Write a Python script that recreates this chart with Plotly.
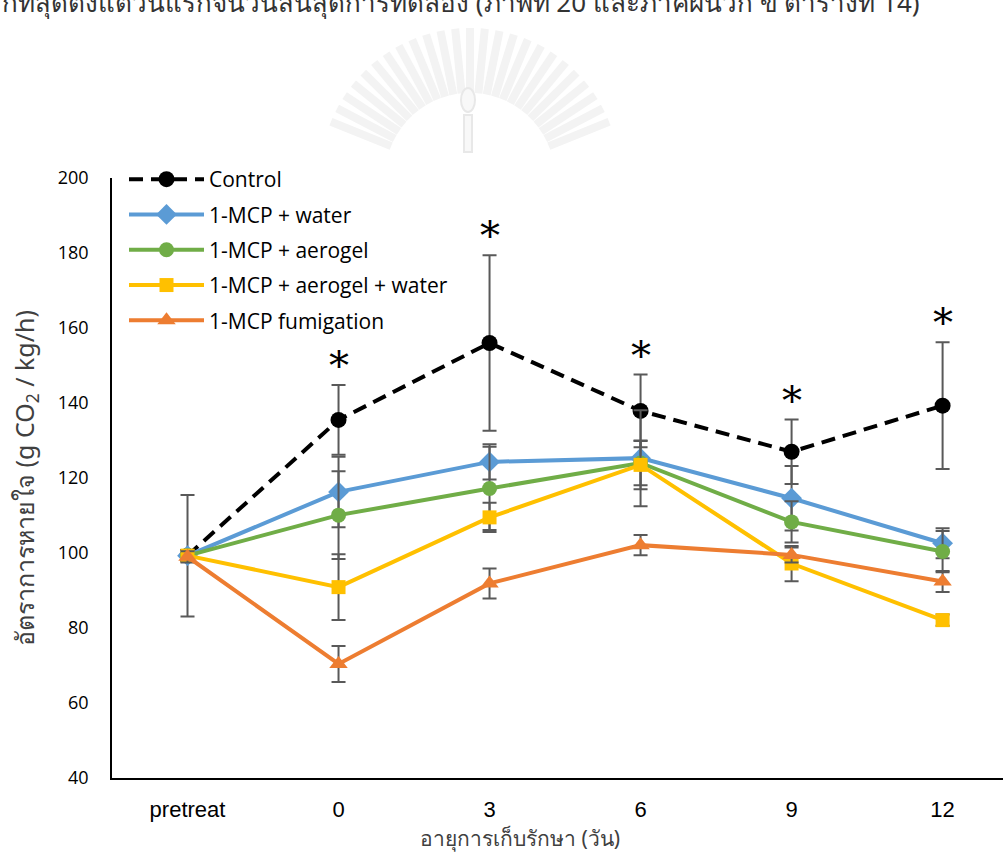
import numpy as np
import plotly.graph_objects as go

# Storage time categories
days = ["pretreat", "0", "3", "6", "9", "12"]

# Respiration rate (g CO2 / kg/h), mean and error per treatment
control = [99.3, 135.5, 156.0, 137.9, 127.0, 139.3]
control_err = [16.2, 9.3, 23.4, 9.7, 8.6, 16.9]

mcp_water = [99.3, 116.3, 124.3, 125.3, 114.6, 102.6]
mcp_water_err = [1.5, 9.4, 4.7, 12.8, 8.6, 4.0]

mcp_aerogel = [99.3, 110.1, 117.2, 124.0, 108.3, 100.4]
mcp_aerogel_err = [1.5, 11.7, 11.1, 5.9, 5.5, 5.5]

mcp_aerogel_water = [99.3, 90.9, 109.5, 123.5, 97.2, 82.1]
mcp_aerogel_water_err = [1.5, 8.8, 3.9, 6.5, 4.7, 1.5]

mcp_fumigation = [99.0, 70.4, 91.9, 102.1, 99.5, 92.4]
mcp_fumigation_err = [1.5, 4.8, 4.0, 2.7, 2.0, 2.8]

# Days on which the control differs significantly
sig_days = ["0", "3", "6", "9", "12"]

W, H = 1003, 859
L, R, T, B = 112, 0, 178, 81
PW, PH = W - L - R, H - T - B


def px(x):
    """Page pixel x -> paper x (paper spans the plotting area)."""
    return (x - L) / PW


def py(y):
    """Page pixel y -> paper y."""
    return (T + PH - y) / PH


series = [
    ("Control", control, control_err, "#000000", "circle", 16, "14px,8px"),
    ("1-MCP + water", mcp_water, mcp_water_err, "#5B9BD5", "diamond", 16, "solid"),
    ("1-MCP + aerogel", mcp_aerogel, mcp_aerogel_err, "#70AD47", "circle", 15, "solid"),
    ("1-MCP + aerogel + water", mcp_aerogel_water, mcp_aerogel_water_err, "#FFC000", "square", 14, "solid"),
    ("1-MCP fumigation", mcp_fumigation, mcp_fumigation_err, "#ED7D31", "triangle-up", 16, "solid"),
]

fig = go.Figure()
for i, (name, vals, errs, color, symbol, size, dash) in enumerate(series):
    fig.add_trace(go.Scatter(
        x=days, y=vals, name=name, mode="lines+markers",
        legendgroup=f"g{i}",
        line=dict(color=color, width=4, dash=dash),
        marker=dict(symbol=symbol, size=size, color=color, line=dict(width=0)),
        error_y=dict(type="data", array=errs, visible=True,
                     color="#595959", thickness=2, width=7),
    ))

annotations = []
# Significance markers above the control error bars
for d in sig_days:
    k = days.index(d)
    annotations.append(dict(
        x=k, y=control[k] + control_err[k], xref="x", yref="y",
        text="*", showarrow=False, yanchor="middle", yshift=20,
        font=dict(family="DejaVu Serif", size=40, color="#000000"),
    ))

# Y axis title with subscript
annotations.append(dict(
    x=px(25), y=py(478), xref="paper", yref="paper",
    text="อัตราการหายใจ (g CO<sub>2</sub> / kg/h)", textangle=-90,
    showarrow=False, xanchor="center", yanchor="middle",
    font=dict(family="Noto Sans, DejaVu Sans", size=25, color="#404040"),
))
# X axis title
annotations.append(dict(
    x=px(520), y=py(838), xref="paper", yref="paper",
    text="อายุการเก็บรักษา (วัน)", showarrow=False,
    xanchor="center", yanchor="middle",
    font=dict(family="Noto Sans, DejaVu Sans", size=21, color="#404040"),
))
# Running text line from the page above the chart
annotations.append(dict(
    x=px(0), y=py(2), xref="paper", yref="paper",
    text="กที่สุดตั้งแต่วันแรกจนวันสิ้นสุดการทดลอง (ภาพที่ 20 และภาคผนวก ข ตารางที่ 14)",
    showarrow=False, xanchor="left", yanchor="middle",
    font=dict(family="Noto Sans, DejaVu Sans", size=26, color="#333333"),
))

# Faint emblem behind the heading
shapes = []
cx, cy = 470, 178
for a in np.linspace(22, 158, 25):
    t = np.deg2rad(a)
    x0, y0 = cx + 85 * np.cos(t), cy - 85 * np.sin(t)
    x1, y1 = cx + 150 * np.cos(t), cy - 150 * np.sin(t)
    if y1 >= 150:
        continue
    if y0 > 150:
        f = (y0 - 150) / (y0 - y1)
        x0, y0 = x0 + f * (x1 - x0), 150
    shapes.append(dict(type="line", xref="paper", yref="paper",
                       x0=px(x0), y0=py(y0), x1=px(x1), y1=py(y1),
                       line=dict(color="#f3f3f3", width=8), layer="below"))
shapes.append(dict(type="circle", xref="paper", yref="paper",
                   x0=px(461), x1=px(475), y0=py(112), y1=py(88),
                   line=dict(color="#e8e8e8", width=2), fillcolor="#f8f8f8", layer="below"))
shapes.append(dict(type="rect", xref="paper", yref="paper",
                   x0=px(464), x1=px(472), y0=py(152), y1=py(115),
                   line=dict(color="#e8e8e8", width=2), fillcolor="#f8f8f8", layer="below"))

fig.update_layout(
    width=W, height=H,
    margin=dict(l=L, r=R, t=T, b=B, pad=0),
    paper_bgcolor="white", plot_bgcolor="rgba(0,0,0,0)",
    showlegend=True,
    legend=dict(
        x=px(124), y=py(159), xanchor="left", yanchor="top",
        bgcolor="rgba(0,0,0,0)", tracegroupgap=5, itemwidth=75,
        font=dict(family="Open Sans, Lato", size=21, color="#000000"),
    ),
    xaxis=dict(
        type="category", range=[-0.5, 5.4], showgrid=False, zeroline=False,
        showline=True, linecolor="#000000", linewidth=1.5, ticks="",
        tickfont=dict(family="Liberation Sans", size=22, color="#000000"),
        ticklabelstandoff=11,
    ),
    yaxis=dict(
        range=[40, 200], tickvals=list(range(40, 201, 20)), showgrid=False,
        zeroline=False, showline=True, linecolor="#000000", linewidth=1.5,
        ticks="", ticklabelstandoff=18,
        tickfont=dict(family="Open Sans, Lato", size=18, color="#000000"),
    ),
    annotations=annotations,
    shapes=shapes,
)

fig.write_html("out.html")
